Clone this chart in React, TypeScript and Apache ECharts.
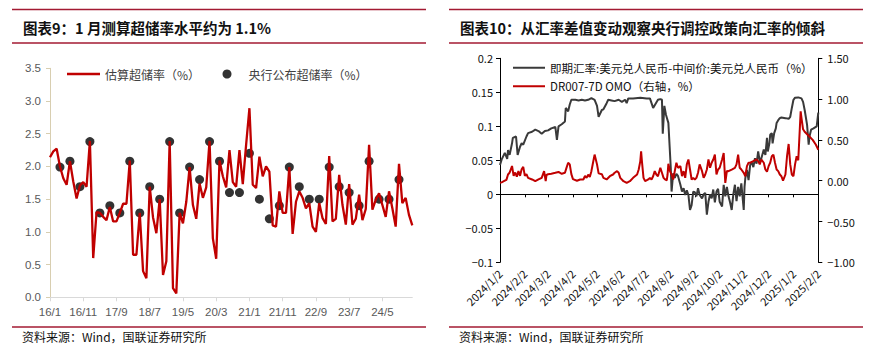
import React, { useEffect, useRef } from 'react';
import * as echarts from 'echarts';

// ---------------- Figure 9: excess reserve ratio ----------------
const monthLabels: string[] = [];
for (let i = 0; i < 110; i++) {
  monthLabels.push(`${16 + Math.floor(i / 12)}/${(i % 12) + 1}`);
}

const estimatedRatio = [
  2.14, 2.23, 2.27, 2.0, 1.82, 1.72, 2.08, 1.77, 1.51, 1.71,
  1.76, 1.69, 2.39, 0.6, 1.3, 1.29, 1.23, 1.18, 1.38, 1.16,
  1.16, 1.29, 1.43, 1.43, 2.09, 0.65, 0.65, 1.29, 0.4, 0.29,
  1.69, 1.22, 0.98, 1.5, 0.34, 0.55, 2.39, 0.14, 0.06, 1.29,
  1.13, 1.46, 1.99, 1.41, 1.2, 1.74, 1.52, 1.68, 2.39, 0.9,
  0.59, 2.09, 1.85, 1.68, 2.25, 1.76, 1.69, 2.25, 1.73, 2.33,
  2.89, 1.72, 1.67, 2.15, 1.85, 2.0, 1.92, 1.1, 1.08, 1.62,
  1.29, 1.29, 1.99, 0.97, 1.46, 1.62, 1.52, 1.36, 1.44, 1.08,
  1.0, 1.44, 1.21, 1.12, 2.16, 1.16, 1.2, 1.87, 1.41, 1.11,
  1.73, 1.11, 1.2, 1.57, 1.18, 1.35, 2.33, 1.34, 1.49, 1.59,
  1.41, 1.23, 1.62, 1.36, 1.08, 2.04, 1.44, 1.52, 1.26, 1.1,
];

const publishedMonths = [
  '16/4', '16/7', '16/10', '17/1', '17/4', '17/7', '17/10', '18/1', '18/4', '18/7',
  '18/10', '19/1', '19/4', '19/7', '19/10', '20/1', '20/4', '20/7', '20/10', '21/1',
  '21/4', '21/7', '21/10', '22/1', '22/4', '22/7', '22/10', '23/1', '23/4', '23/7',
  '23/10', '24/1', '24/4', '24/7', '24/10',
];
const publishedRatio = [
  1.99, 2.08, 1.69, 2.38, 1.29, 1.4, 1.29, 2.08, 1.29, 1.69,
  1.5, 2.38, 1.29, 1.99, 1.8, 2.38, 2.08, 1.6, 1.6, 2.2,
  1.5, 1.2, 1.4, 1.99, 1.69, 1.5, 1.5, 1.99, 1.69, 1.6,
  1.4, 2.08, 1.5, 1.5, 1.8,
];

// ---------------- Figure 10: FX spread vs DR007-OMO ----------------
const dayLabels: string[] = [];
{
  const start = Date.UTC(2024, 0, 2);
  const end = Date.UTC(2025, 1, 2);
  for (let t = start; t <= end; t += 86400000) {
    const d = new Date(t);
    dayLabels.push(`${d.getUTCFullYear()}/${d.getUTCMonth() + 1}/${d.getUTCDate()}`);
  }
}

const fxDates = [
  '2024/1/2', '2024/1/4', '2024/1/8', '2024/1/11', '2024/1/12', '2024/1/14', '2024/1/17', '2024/1/18', '2024/1/22', '2024/1/24',
  '2024/1/27', '2024/1/29', '2024/1/31', '2024/2/4', '2024/2/6', '2024/2/11', '2024/2/15', '2024/2/19', '2024/2/23', '2024/2/27',
  '2024/3/2', '2024/3/6', '2024/3/11', '2024/3/13', '2024/3/15', '2024/3/19', '2024/3/23', '2024/3/24', '2024/3/27', '2024/3/29',
  '2024/3/31', '2024/4/5', '2024/4/9', '2024/4/13', '2024/4/17', '2024/4/21', '2024/4/25', '2024/4/29', '2024/5/2', '2024/5/4',
  '2024/5/8', '2024/5/10', '2024/5/14', '2024/5/16', '2024/5/20', '2024/5/24', '2024/5/29', '2024/6/2', '2024/6/6', '2024/6/8',
  '2024/6/10', '2024/6/16', '2024/6/25', '2024/7/3', '2024/7/7', '2024/7/9', '2024/7/11', '2024/7/13', '2024/7/17', '2024/7/20',
  '2024/7/22', '2024/7/23', '2024/7/25', '2024/7/27', '2024/7/28', '2024/7/30', '2024/7/31', '2024/8/2', '2024/8/3', '2024/8/5',
  '2024/8/7', '2024/8/9', '2024/8/11', '2024/8/14', '2024/8/16', '2024/8/18', '2024/8/20', '2024/8/22', '2024/8/24', '2024/8/26',
  '2024/8/28', '2024/8/30', '2024/9/1', '2024/9/3', '2024/9/5', '2024/9/7', '2024/9/10', '2024/9/12', '2024/9/14', '2024/9/16',
  '2024/9/18', '2024/9/20', '2024/9/22', '2024/9/24', '2024/9/26', '2024/9/28', '2024/9/30', '2024/10/2', '2024/10/5', '2024/10/7',
  '2024/10/9', '2024/10/11', '2024/10/13', '2024/10/15', '2024/10/17', '2024/10/19', '2024/10/21', '2024/10/23', '2024/10/25', '2024/10/27',
  '2024/10/29', '2024/11/1', '2024/11/2', '2024/11/3', '2024/11/5', '2024/11/7', '2024/11/9', '2024/11/11', '2024/11/13', '2024/11/15',
  '2024/11/17', '2024/11/19', '2024/11/21', '2024/11/23', '2024/11/26', '2024/11/28', '2024/11/30', '2024/12/1', '2024/12/3', '2024/12/4',
  '2024/12/6', '2024/12/7', '2024/12/9', '2024/12/11', '2024/12/12', '2024/12/14', '2024/12/16', '2024/12/18', '2024/12/23', '2024/12/27',
  '2024/12/29', '2024/12/31', '2025/1/2', '2025/1/4', '2025/1/8', '2025/1/12', '2025/1/14', '2025/1/16', '2025/1/19', '2025/1/21',
  '2025/1/22', '2025/1/24', '2025/1/27', '2025/1/31', '2025/2/2',
];
const fxSpread = [
  0.043, 0.051, 0.061, 0.052, 0.065, 0.058, 0.075, 0.083, 0.085, 0.058,
  0.07, 0.075, 0.073, 0.085, 0.09, 0.092, 0.095, 0.093, 0.089, 0.093,
  0.094, 0.097, 0.099, 0.08, 0.1, 0.103, 0.107, 0.127, 0.122, 0.132,
  0.139, 0.139, 0.138, 0.139, 0.138, 0.139, 0.1415, 0.139, 0.13, 0.114,
  0.124, 0.125, 0.134, 0.139, 0.138, 0.137, 0.139, 0.136, 0.139, 0.134,
  0.141, 0.141, 0.142, 0.141, 0.141, 0.134, 0.127, 0.131, 0.139, 0.14,
  0.139, 0.089, 0.13, 0.117, 0.113, 0.105, 0.083, 0.039, 0.004, 0.031,
  0.024, 0.03, 0.027, 0.014, 0.004, 0.009, -0.001, 0.006, -0.001, -0.023,
  -0.016, 0.004, 0.003, -0.003, 0.009, -0.001, -0.006, 0.0, 0.002, -0.03,
  -0.011, 0.0, -0.006, 0.007, -0.012, 0.004, 0.008, -0.011, -0.018, 0.014,
  -0.003, 0.011, -0.003, -0.012, -0.023, 0.0, 0.014, -0.01, 0.011, -0.003,
  0.016, -0.023, 0.011, 0.024, 0.036, 0.021, 0.043, 0.047, 0.04, 0.053,
  0.045, 0.063, 0.048, 0.053, 0.066, 0.058, 0.083, 0.063, 0.075, 0.0875,
  0.09, 0.075, 0.09, 0.097, 0.105, 0.109, 0.112, 0.113, 0.112, 0.111,
  0.114, 0.127, 0.139, 0.142, 0.1425, 0.141, 0.136, 0.124, 0.102, 0.073,
  0.085, 0.095, 0.097, 0.1, 0.12,
];

const drDates = [
  '2024/1/2', '2024/1/4', '2024/1/8', '2024/1/10', '2024/1/12', '2024/1/14', '2024/1/17', '2024/1/19', '2024/1/21', '2024/1/23',
  '2024/1/25', '2024/1/27', '2024/1/29', '2024/1/31', '2024/2/2', '2024/2/4', '2024/2/6', '2024/2/11', '2024/2/15', '2024/2/19',
  '2024/2/23', '2024/2/26', '2024/2/28', '2024/2/29', '2024/3/2', '2024/3/6', '2024/3/11', '2024/3/15', '2024/3/19', '2024/3/23',
  '2024/3/25', '2024/3/27', '2024/3/29', '2024/3/31', '2024/4/2', '2024/4/7', '2024/4/11', '2024/4/15', '2024/4/17', '2024/4/19',
  '2024/4/21', '2024/4/23', '2024/4/25', '2024/4/27', '2024/4/29', '2024/5/2', '2024/5/4', '2024/5/8', '2024/5/10', '2024/5/14',
  '2024/5/18', '2024/5/22', '2024/5/24', '2024/5/27', '2024/5/29', '2024/5/31', '2024/6/4', '2024/6/8', '2024/6/12', '2024/6/16',
  '2024/6/21', '2024/6/23', '2024/6/25', '2024/6/26', '2024/6/27', '2024/6/29', '2024/7/1', '2024/7/5', '2024/7/7', '2024/7/9',
  '2024/7/11', '2024/7/13', '2024/7/15', '2024/7/17', '2024/7/20', '2024/7/22', '2024/7/24', '2024/7/26', '2024/7/28', '2024/7/29',
  '2024/7/30', '2024/8/1', '2024/8/3', '2024/8/5', '2024/8/7', '2024/8/9', '2024/8/11', '2024/8/14', '2024/8/16', '2024/8/18',
  '2024/8/20', '2024/8/22', '2024/8/24', '2024/8/26', '2024/8/28', '2024/8/30', '2024/9/1', '2024/9/3', '2024/9/5', '2024/9/7',
  '2024/9/10', '2024/9/12', '2024/9/14', '2024/9/16', '2024/9/18', '2024/9/20', '2024/9/22', '2024/9/24', '2024/9/26', '2024/9/28',
  '2024/9/30', '2024/10/2', '2024/10/5', '2024/10/7', '2024/10/9', '2024/10/11', '2024/10/13', '2024/10/17', '2024/10/21', '2024/10/23',
  '2024/10/25', '2024/10/27', '2024/10/29', '2024/11/1', '2024/11/3', '2024/11/5', '2024/11/7', '2024/11/9', '2024/11/11', '2024/11/13',
  '2024/11/17', '2024/11/19', '2024/11/21', '2024/11/23', '2024/11/26', '2024/11/28', '2024/11/30', '2024/12/2', '2024/12/4', '2024/12/6',
  '2024/12/8', '2024/12/10', '2024/12/12', '2024/12/14', '2024/12/16', '2024/12/18', '2024/12/20', '2024/12/23', '2024/12/25', '2024/12/27',
  '2024/12/29', '2024/12/31', '2025/1/2', '2025/1/4', '2025/1/6', '2025/1/8', '2025/1/11', '2025/1/12', '2025/1/14', '2025/1/16',
  '2025/1/21', '2025/1/26', '2025/1/30', '2025/2/2',
];
const drSpread = [
  -0.026, -0.02, 0.0, 0.01, 0.076, 0.1, 0.18, 0.06, 0.1, 0.05,
  0.117, 0.06, 0.14, 0.17, 0.06, 0.08, 0.035, 0.015, -0.006, 0.015,
  0.035, 0.117, -0.006, 0.07, 0.08, 0.085, 0.097, 0.107, 0.085, 0.097,
  0.16, 0.22, 0.2, 0.08, 0.02, 0.0, 0.015, 0.015, 0.06, 0.035,
  0.075, 0.045, 0.117, 0.22, 0.32, 0.2, 0.09, 0.08, 0.035, 0.015,
  0.055, 0.076, 0.097, 0.117, 0.097, 0.035, -0.006, -0.026, -0.006, 0.035,
  0.076, 0.137, 0.24, 0.36, 0.24, 0.035, -0.006, 0.015, 0.035, 0.015,
  0.055, 0.117, 0.076, 0.055, 0.158, 0.097, 0.035, 0.015, 0.003, 0.076,
  0.207, 0.117, 0.076, 0.015, 0.117, 0.22, 0.158, 0.178, 0.055, 0.117,
  0.035, 0.2, 0.26, 0.137, 0.015, 0.035, 0.015, 0.035, 0.097, 0.2,
  0.117, 0.035, 0.076, 0.137, 0.26, 0.158, 0.22, 0.26, 0.32, 0.076,
  0.137, 0.158, 0.26, 0.34, -0.026, 0.12, 0.117, 0.137, 0.158, 0.2,
  0.32, 0.158, 0.137, 0.097, 0.055, 0.178, 0.22, 0.22, 0.23, 0.24,
  0.26, 0.24, 0.2, 0.26, 0.22, 0.137, 0.11, 0.178, 0.22, 0.3,
  0.32, 0.22, 0.137, 0.117, 0.076, 0.055, 0.0, 0.076, 0.3, 0.45,
  0.2, 0.076, 0.055, 0.2, 0.3, 0.25, 0.85, 0.77, 0.63, 0.6,
  0.55, 0.5, 0.44, 0.38,
];

const title9 = '图表9：1 月测算超储率水平约为 1.1%';
const title10 = '图表10：从汇率差值变动观察央行调控政策向汇率的倾斜';
const sourceText = '资料来源：Wind，国联证券研究所';
const nameEst = '估算超储率（%）';
const namePub = '央行公布超储率（%）';
const nameFx = '即期汇率:美元兑人民币-中间价:美元兑人民币（%）';
const nameDr = 'DR007-7D OMO（右轴，%）';

const RULE = '#a31a32';
const CJK = '"Noto Sans CJK SC", sans-serif';
const LINE_ICON_L = 'path://M0,0 L33,0 L33,2.4 L0,2.4 Z';
const LINE_ICON_R = 'path://M0,0 L32,0 L32,2 L0,2 Z';

function buildOption(): any {
  const dayIndex = new Map<string, number>();
  dayLabels.forEach((d, i) => dayIndex.set(d, i));
  const monthIndex = new Map<string, number>();
  monthLabels.forEach((m, i) => monthIndex.set(m, i));

  const isMonthTick = (_i: number, v: string) => v.split('/')[2] === '2';
  const minus = (s: string) => s.replace('-', '−');

  return {
    animation: false,
    backgroundColor: '#ffffff',
    grid: [
      { left: 50, top: 68.3, width: 362.3, height: 229, containLabel: false },
      { left: 500, top: 58.3, width: 318.3, height: 204, containLabel: false },
    ],
    legend: [
      {
        data: [{ name: nameEst, icon: LINE_ICON_L }], left: 62, top: 63, itemWidth: 33, itemHeight: 14, itemGap: 0,
        textStyle: { fontFamily: CJK, fontSize: 12, color: '#404040' },
      },
      {
        data: [namePub], left: 217.5, top: 63, itemWidth: 33, itemHeight: 9, icon: 'circle',
        textStyle: { fontFamily: CJK, fontSize: 12, color: '#404040' },
      },
      {
        data: [{ name: nameFx, icon: LINE_ICON_R }, { name: nameDr, icon: LINE_ICON_R }],
        orient: 'vertical', left: 508, top: 57, itemWidth: 32, itemHeight: 14, itemGap: 7,
        textStyle: { fontFamily: CJK, fontSize: 11.5, color: '#111' },
      },
    ],
    xAxis: [
      {
        gridIndex: 0, type: 'category', data: monthLabels, boundaryGap: false,
        axisLine: { show: true, onZero: false, lineStyle: { color: '#d9d9d9', width: 1 } },
        axisTick: { show: true, interval: 9, length: 4, lineStyle: { color: '#d9d9d9' } },
        axisLabel: { interval: 9, margin: 9, color: '#595959', fontFamily: '"Liberation Sans", sans-serif', fontSize: 11.5 },
        splitLine: { show: false },
      },
      {
        gridIndex: 1, type: 'category', data: dayLabels, boundaryGap: false, position: 'bottom',
        axisLine: { show: false, onZero: false },
        axisTick: { show: false },
        axisLabel: { interval: isMonthTick, rotate: 45, margin: 9, color: '#111', fontFamily: CJK, fontSize: 11 },
        splitLine: { show: false },
      },
      {
        gridIndex: 1, type: 'category', data: dayLabels, boundaryGap: false, position: 'bottom',
        axisLine: { show: true, onZero: true, onZeroAxisIndex: 1, lineStyle: { color: '#000', width: 1 } },
        axisTick: { show: true, interval: isMonthTick, length: 3, lineStyle: { color: '#000' } },
        axisLabel: { show: false },
        splitLine: { show: false },
      },
    ],
    yAxis: [
      {
        gridIndex: 0, type: 'value', min: 0, max: 3.5, interval: 0.5,
        axisLine: { show: true, lineStyle: { color: '#d8ceb0', width: 1 } },
        axisTick: { show: true, length: 4, lineStyle: { color: '#d8ceb0' } },
        axisLabel: { margin: 9, color: '#595959', fontFamily: '"Liberation Sans", sans-serif', fontSize: 11.5, formatter: (v: number) => v.toFixed(1) },
        splitLine: { show: false },
      },
      {
        gridIndex: 1, type: 'value', min: -0.1, max: 0.2, interval: 0.05, position: 'left',
        axisLine: { show: true, lineStyle: { color: '#000', width: 1 } },
        axisTick: { show: true, length: 4, lineStyle: { color: '#000' } },
        axisLabel: {
          margin: 7, color: '#111', fontFamily: CJK, fontSize: 11,
          formatter: (v: number) => minus(String(parseFloat(v.toFixed(2)))),
        },
        splitLine: { show: false },
      },
      {
        gridIndex: 1, type: 'value', min: -1, max: 1.5, interval: 0.5, position: 'right',
        axisLine: { show: true, lineStyle: { color: '#000', width: 1 } },
        axisTick: { show: true, length: 4, lineStyle: { color: '#000' } },
        axisLabel: { margin: 9, color: '#111', fontFamily: CJK, fontSize: 11, formatter: (v: number) => minus(v.toFixed(2)) },
        splitLine: { show: false },
      },
    ],
    series: [
      {
        name: nameEst, type: 'line', xAxisIndex: 0, yAxisIndex: 0,
        data: estimatedRatio, symbol: 'none', lineStyle: { color: '#c00000', width: 2.3 }, itemStyle: { color: '#c00000' },
      },
      {
        name: namePub, type: 'scatter', xAxisIndex: 0, yAxisIndex: 0, symbol: 'circle', symbolSize: 9,
        data: publishedMonths.map((m, i) => [monthIndex.get(m), publishedRatio[i]]),
        itemStyle: { color: '#000' },
      },
      {
        name: nameFx, type: 'line', xAxisIndex: 1, yAxisIndex: 1, symbol: 'none',
        data: fxDates.map((d, i) => [dayIndex.get(d), fxSpread[i]]),
        lineStyle: { color: '#3a3a3a', width: 2 }, itemStyle: { color: '#3a3a3a' },
      },
      {
        name: nameDr, type: 'line', xAxisIndex: 1, yAxisIndex: 2, symbol: 'none',
        data: drDates.map((d, i) => [dayIndex.get(d), drSpread[i]]),
        lineStyle: { color: '#c00000', width: 2 }, itemStyle: { color: '#c00000' },
      },
    ],
    graphic: [
      { type: 'line', shape: { x1: 12, y1: 9.5, x2: 426, y2: 9.5 }, style: { stroke: RULE, lineWidth: 1.3 } },
      { type: 'line', shape: { x1: 12, y1: 43, x2: 426, y2: 43 }, style: { stroke: RULE, lineWidth: 1.3 } },
      { type: 'line', shape: { x1: 12, y1: 327, x2: 426, y2: 327 }, style: { stroke: RULE, lineWidth: 1.3 } },
      { type: 'line', shape: { x1: 449, y1: 9.5, x2: 863, y2: 9.5 }, style: { stroke: RULE, lineWidth: 1.3 } },
      { type: 'line', shape: { x1: 449, y1: 43, x2: 863, y2: 43 }, style: { stroke: RULE, lineWidth: 1.3 } },
      { type: 'line', shape: { x1: 449, y1: 327, x2: 863, y2: 327 }, style: { stroke: RULE, lineWidth: 1.3 } },
      {
        type: 'text', x: 23, y: 27,
        style: { text: title9, fontFamily: CJK, fontSize: 14.5, fontWeight: 'bold', fill: '#111', verticalAlign: 'middle' },
      },
      {
        type: 'text', x: 460, y: 27,
        style: { text: title10, fontFamily: CJK, fontSize: 14.5, fontWeight: 'bold', fill: '#111', verticalAlign: 'middle' },
      },
      {
        type: 'text', x: 22, y: 336,
        style: { text: sourceText, fontFamily: CJK, fontSize: 12, fill: '#111', verticalAlign: 'middle' },
      },
      {
        type: 'text', x: 459, y: 336,
        style: { text: sourceText, fontFamily: CJK, fontSize: 12, fill: '#111', verticalAlign: 'middle' },
      },
    ],
  };
}

export default function App() {
  const ref = useRef<HTMLDivElement>(null);
  useEffect(() => {
    if (!ref.current) return;
    const chart = echarts.init(ref.current, undefined, { renderer: 'svg' });
    chart.setOption(buildOption());
    return () => chart.dispose();
  }, []);
  return (
    <div
      ref={ref}
      style={{ position: 'absolute', left: 0, top: 0, width: 879, height: 359, background: '#ffffff' }}
    />
  );
}
